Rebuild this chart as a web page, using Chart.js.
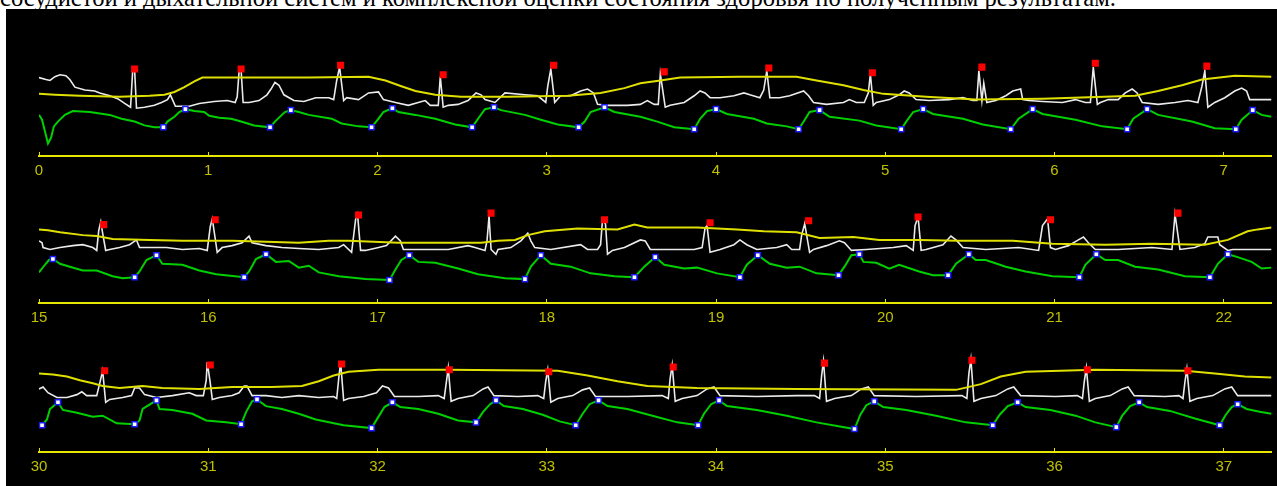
<!DOCTYPE html>
<html>
<head>
<meta charset="utf-8">
<script src="https://cdn.jsdelivr.net/npm/chart.js@4/dist/chart.umd.min.js"></script>
<style>
  html, body { margin: 0; padding: 0; background: #ffffff; width: 1277px; height: 486px; overflow: hidden; }
  #cap { position: absolute; left: 0px; top: -14px; font-family: 'Liberation Serif', 'Times New Roman', serif; font-size: 24.6px; line-height: 24.6px; white-space: nowrap; color: #000; }
  #panel { position: absolute; left: 6px; top: 9px; width: 1271px; height: 477px; background: #000; }
  canvas.strip { position: absolute; left: 6px; width: 1271px; height: 150px; }
</style>
</head>
<body>
<div id="cap">сосудистой и дыхательной систем и комплексной оценки состояния здоровья по полученным результатам.</div>
<div id="panel"></div>
<canvas class="strip" id="s1" width="1271" height="150" style="top:31px"></canvas>
<canvas class="strip" id="s2" width="1271" height="150" style="top:178px"></canvas>
<canvas class="strip" id="s3" width="1271" height="150" style="top:327px"></canvas>
<script>
// ---- strip time windows (seconds) ----
const stripStarts = [0, 15, 30];
const stripSpan = 7.282;

// ---- strip 1 (0 - 7.3 s) ----  [time s, amplitude units]
const ecg1 = [[0,82],[.041,80],[.065,79],[.094,83],[.124,85],[.159,84],[.182,80],[.212,72],[.271,69],[.329,68],[.359,66],[.418,63],[.465,60],[.506,55],[.541,51],[.553,88],[.565,90],[.576,50],[.624,51],[.682,53],[.724,56],[.759,59],[.776,64],[.806,52],[.888,52],[.947,55],[1.035,57],[1.112,58],[1.159,56],[1.171,62],[1.182,88],[1.194,90],[1.206,56],[1.241,56],[1.3,58],[1.347,64],[1.371,70],[1.394,77],[1.418,74],[1.447,64],[1.506,58],[1.565,57],[1.635,61],[1.712,61],[1.741,59],[1.759,79],[1.776,93],[1.8,58],[1.818,61],[1.888,59],[1.947,66],[2.006,67],[2.035,59],[2.106,56],[2.182,53],[2.241,56],[2.282,58],[2.312,53],[2.359,53],[2.371,83],[2.388,51],[2.418,53],[2.476,54],[2.535,58],[2.582,66],[2.612,64],[2.635,59],[2.694,56],[2.753,66],[2.871,64],[2.947,63],[2.994,56],[3.006,73],[3.024,91],[3.047,56],[3.082,63],[3.141,63],[3.2,68],[3.241,70],[3.276,66],[3.3,54],[3.359,53],[3.476,53],[3.553,54],[3.594,58],[3.635,54],[3.659,54],[3.671,86],[3.7,51],[3.729,53],[3.812,56],[3.871,63],[3.906,68],[3.935,66],[3.965,61],[4.024,61],[4.106,63],[4.165,66],[4.2,64],[4.259,61],[4.282,69],[4.3,89],[4.318,61],[4.376,61],[4.435,63],[4.518,68],[4.547,63],[4.576,56],[4.653,54],[4.753,56],[4.788,59],[4.829,56],[4.876,56],[4.9,66],[4.912,86],[4.929,53],[4.947,56],[5.024,59],[5.082,64],[5.112,68],[5.141,66],[5.182,59],[5.259,58],[5.376,59],[5.459,61],[5.518,58],[5.541,58],[5.553,89],[5.571,58],[5.582,76],[5.6,56],[5.653,58],[5.712,63],[5.753,68],[5.8,70],[5.812,59],[5.847,58],[5.929,57],[6.047,56],[6.124,59],[6.182,56],[6.212,56],[6.229,93],[6.253,54],[6.271,56],[6.318,59],[6.376,59],[6.418,66],[6.459,70],[6.488,66],[6.518,56],[6.612,54],[6.712,56],[6.788,58],[6.847,56],[6.871,73],[6.888,89],[6.906,51],[6.947,56],[7.006,61],[7.065,68],[7.106,71],[7.135,68],[7.153,59],[7.224,59],[7.282,59]];
const resp1 = [[0,65],[.094,64],[.241,63],[.476,62],[.653,63],[.741,64],[.8,67],[.859,72],[.918,78],[.965,82],[1.594,82],[1.947,83],[2.047,79],[2.141,73],[2.224,68],[2.341,64],[2.494,62],[2.771,62],[3.124,63],[3.318,66],[3.459,71],[3.553,76],[3.671,79],[3.788,82],[4.141,83],[4.476,83],[4.594,79],[4.753,74],[4.871,69],[4.988,65],[5.241,62],[5.535,59],[5.929,60],[6.476,63],[6.612,68],[6.753,74],[6.871,80],[7.065,84],[7.282,83]];
const pulse1 = [[0,43],[.018,38],[.035,26],[.053,13],[.071,19],[.088,31],[.112,36],[.153,43],[.2,47],[.3,46],[.418,43],[.488,39],[.565,36],[.624,32],[.682,30],[.735,30],[.759,36],[.8,41],[.829,46],[.865,49],[.918,47],[.976,46],[1.006,42],[1.065,40],[1.135,39],[1.194,36],[1.271,32],[1.365,30],[1.394,36],[1.429,42],[1.453,46],[1.488,48],[1.535,46],[1.594,43],[1.729,39],[1.788,34],[1.888,31],[1.965,30],[2.006,39],[2.035,46],[2.088,50],[2.124,46],[2.224,43],[2.341,39],[2.459,33],[2.559,30],[2.594,39],[2.635,49],[2.688,51],[2.729,48],[2.871,43],[2.965,38],[3.065,33],[3.188,30],[3.224,36],[3.259,46],[3.341,51],[3.4,46],[3.553,41],[3.653,36],[3.753,30],[3.871,28],[3.906,39],[3.947,47],[4.0,49],[4.065,44],[4.224,39],[4.3,34],[4.418,31],[4.488,28],[4.518,36],[4.553,46],[4.612,48],[4.671,41],[4.847,37],[4.947,32],[5.094,28],[5.124,36],[5.165,46],[5.224,49],[5.282,44],[5.459,39],[5.576,33],[5.741,28],[5.788,39],[5.871,49],[5.929,44],[6.124,38],[6.282,31],[6.429,28],[6.465,39],[6.547,49],[6.612,43],[6.812,36],[6.947,29],[7.071,28],[7.106,38],[7.171,48],[7.224,43],[7.282,41]];
const pulseMarks1 = [[.735,30],[.865,49],[1.365,30],[1.488,48],[1.965,30],[2.088,50],[2.559,30],[2.688,51],[3.188,30],[3.341,51],[3.871,28],[4.0,49],[4.488,28],[4.612,48],[5.094,28],[5.224,49],[5.741,28],[5.871,49],[6.429,28],[6.547,49],[7.071,28],[7.171,48]];
const rPeaks1 = [[.565,91],[1.194,91],[1.782,95],[2.388,85],[3.041,95],[3.694,88],[4.312,92],[4.924,87],[5.571,93],[6.241,97],[6.9,94]];

// ---- strip 2 (15 - 22.3 s) ----
const ecg2 = [[15,65],[15.018,63],[15.024,58],[15.065,56],[15.124,58],[15.2,60],[15.259,61],[15.318,58],[15.341,55],[15.353,76],[15.365,85],[15.376,73],[15.394,55],[15.418,56],[15.476,58],[15.535,61],[15.576,66],[15.594,58],[15.753,58],[15.847,56],[15.947,57],[15.994,55],[16.012,80],[16.024,88],[16.053,53],[16.082,58],[16.141,60],[16.2,63],[16.241,70],[16.259,63],[16.341,60],[16.435,58],[16.535,57],[16.653,56],[16.771,58],[16.8,61],[16.847,53],[16.871,88],[16.882,93],[16.9,55],[16.929,55],[17.006,58],[17.053,60],[17.106,70],[17.135,65],[17.153,56],[17.282,56],[17.418,56],[17.535,60],[17.576,58],[17.635,55],[17.647,65],[17.659,91],[17.671,56],[17.7,51],[17.712,56],[17.788,58],[17.847,65],[17.888,73],[17.906,65],[17.929,58],[18.024,56],[18.2,61],[18.241,56],[18.3,56],[18.318,61],[18.329,86],[18.347,83],[18.359,51],[18.388,55],[18.459,58],[18.553,66],[18.582,65],[18.612,56],[18.871,56],[18.918,58],[18.935,78],[18.947,81],[18.965,53],[19.024,56],[19.106,61],[19.141,66],[19.182,61],[19.241,56],[19.359,58],[19.418,61],[19.447,56],[19.494,56],[19.506,71],[19.524,83],[19.553,53],[19.576,56],[19.653,60],[19.729,65],[19.759,63],[19.8,55],[19.888,56],[20.047,58],[20.124,60],[20.165,55],[20.176,81],[20.194,90],[20.212,55],[20.241,56],[20.341,61],[20.388,70],[20.418,66],[20.459,58],[20.594,56],[20.788,58],[20.906,55],[20.929,81],[20.959,88],[20.976,58],[21.006,56],[21.082,60],[21.141,66],[21.171,69],[21.2,63],[21.241,56],[21.376,56],[21.576,58],[21.694,56],[21.712,93],[21.741,56],[21.829,58],[21.888,62],[21.906,69],[21.965,69],[21.976,61],[22.024,55],[22.053,56],[22.282,56]];
const resp2 = [[15,77],[15.053,76],[15.124,74],[15.259,71],[15.341,70],[15.435,67],[15.653,66],[15.847,65],[16.141,65],[16.341,64],[16.535,63],[16.712,65],[16.829,65],[17.124,63],[17.612,63],[17.712,65],[17.812,66],[17.888,71],[17.988,75],[18.182,78],[18.418,77],[18.518,82],[18.594,79],[18.888,79],[19.124,77],[19.282,75],[19.476,74],[19.612,68],[19.812,69],[19.965,66],[20.2,66],[20.435,65],[20.753,65],[20.988,62],[21.3,61],[21.576,62],[21.888,61],[22.024,66],[22.141,75],[22.2,77],[22.282,79]];
const pulse2 = [[15,32],[15.035,40],[15.059,45],[15.082,46],[15.124,41],[15.182,38],[15.259,34],[15.341,34],[15.435,28],[15.494,26],[15.565,27],[15.594,33],[15.635,45],[15.694,50],[15.729,41],[15.847,40],[15.947,34],[16.047,30],[16.212,27],[16.241,33],[16.282,46],[16.341,51],[16.4,43],[16.476,44],[16.535,37],[16.594,39],[16.653,32],[16.771,28],[16.929,25],[17.071,24],[17.106,35],[17.141,45],[17.188,50],[17.241,43],[17.341,42],[17.476,36],[17.594,30],[17.753,26],[17.871,25],[17.906,38],[17.965,50],[18.024,41],[18.141,38],[18.259,31],[18.4,28],[18.518,27],[18.576,38],[18.641,48],[18.694,40],[18.812,36],[18.888,37],[19.006,31],[19.141,27],[19.182,40],[19.247,50],[19.318,41],[19.418,37],[19.494,38],[19.594,31],[19.724,29],[19.759,38],[19.8,50],[19.847,51],[19.871,43],[19.947,42],[20.024,36],[20.082,40],[20.2,33],[20.282,29],[20.371,29],[20.418,41],[20.494,51],[20.535,45],[20.594,45],[20.712,38],[20.829,33],[20.988,28],[21.147,27],[21.182,40],[21.247,51],[21.3,45],[21.376,45],[21.476,38],[21.612,35],[21.771,28],[21.918,27],[21.965,41],[22.024,51],[22.082,48],[22.165,43],[22.224,36],[22.282,37]];
const pulseMarks2 = [[15.082,46],[15.565,27],[15.694,50],[16.212,27],[16.341,51],[17.071,24],[17.188,50],[17.871,25],[17.965,50],[18.518,27],[18.641,48],[19.141,27],[19.247,50],[19.724,29],[19.847,51],[20.371,29],[20.494,51],[21.147,27],[21.247,51],[21.918,27],[22.024,51]];
const rPeaks2 = [[15.382,82],[16.041,87],[16.888,92],[17.671,94],[18.341,87],[18.965,84],[19.547,86],[20.194,90],[20.976,87],[21.729,94]];

// ---- strip 3 (30 - 37.3 s) ----
const ecg3 = [[30,66],[30.024,68],[30.053,62],[30.106,57],[30.165,57],[30.224,60],[30.253,63],[30.282,59],[30.341,59],[30.359,72],[30.376,85],[30.394,52],[30.418,55],[30.494,57],[30.547,59],[30.565,67],[30.594,67],[30.624,60],[30.694,57],[30.788,59],[30.888,62],[30.929,59],[30.971,59],[30.988,75],[30.994,94],[31.012,72],[31.024,55],[31.065,57],[31.141,59],[31.182,62],[31.212,69],[31.229,69],[31.259,59],[31.341,59],[31.435,57],[31.535,59],[31.653,57],[31.741,58],[31.759,56],[31.771,77],[31.782,94],[31.8,54],[31.829,56],[31.918,58],[31.994,62],[32.029,69],[32.065,67],[32.1,58],[32.241,58],[32.359,59],[32.394,56],[32.406,72],[32.418,88],[32.435,53],[32.476,56],[32.565,59],[32.624,66],[32.653,68],[32.688,59],[32.829,58],[32.947,59],[32.982,56],[32.994,74],[33.006,86],[33.024,52],[33.065,56],[33.153,59],[33.212,65],[33.253,67],[33.288,58],[33.476,58],[33.682,59],[33.718,56],[33.729,77],[33.741,91],[33.759,53],[33.8,56],[33.888,59],[33.947,66],[33.988,68],[34.024,59],[34.241,58],[34.476,59],[34.582,59],[34.612,56],[34.624,80],[34.635,95],[34.653,53],[34.7,56],[34.8,59],[34.859,66],[34.9,68],[34.935,59],[35.182,58],[35.453,59],[35.482,56],[35.494,82],[35.506,97],[35.524,53],[35.565,56],[35.653,59],[35.724,66],[35.759,68],[35.8,59],[36.006,58],[36.135,59],[36.165,56],[36.176,74],[36.188,88],[36.206,53],[36.241,56],[36.329,59],[36.4,66],[36.435,68],[36.471,59],[36.653,58],[36.735,59],[36.759,56],[36.771,74],[36.782,87],[36.8,53],[36.841,56],[36.935,59],[37.006,66],[37.047,68],[37.082,59],[37.282,59]];
const resp3 = [[30,82],[30.082,81],[30.165,79],[30.241,75],[30.318,72],[30.376,69],[30.476,67],[30.612,69],[30.729,67],[30.947,66],[31.141,68],[31.376,68],[31.553,69],[31.653,74],[31.741,80],[31.829,84],[32.006,86],[32.418,86],[33.065,85],[33.241,80],[33.418,74],[33.594,69],[33.888,67],[34.476,66],[35.418,65],[35.565,71],[35.682,79],[35.829,84],[36.241,86],[36.771,85],[36.947,82],[37.124,79],[37.282,78]];
const pulse3 = [[30.018,28],[30.047,34],[30.065,45],[30.112,52],[30.141,44],[30.224,41],[30.318,37],[30.376,38],[30.459,30],[30.565,29],[30.594,33],[30.612,45],[30.694,54],[30.712,45],[30.788,44],[30.906,40],[30.988,33],[31.106,31],[31.194,29],[31.224,42],[31.259,53],[31.288,55],[31.341,48],[31.435,45],[31.535,40],[31.635,34],[31.8,28],[31.965,25],[32.006,37],[32.041,47],[32.088,52],[32.135,47],[32.241,45],[32.359,40],[32.476,33],[32.582,31],[32.624,42],[32.665,50],[32.7,54],[32.747,48],[32.859,45],[32.976,39],[33.076,32],[33.171,28],[33.212,40],[33.253,50],[33.306,54],[33.359,48],[33.476,45],[33.624,38],[33.771,31],[33.894,28],[33.929,40],[33.971,50],[34.018,54],[34.065,48],[34.241,44],[34.418,38],[34.594,31],[34.818,24],[34.853,39],[34.888,49],[34.935,53],[34.988,47],[35.124,44],[35.3,38],[35.476,31],[35.635,28],[35.676,39],[35.724,48],[35.782,52],[35.829,47],[35.976,44],[36.124,38],[36.241,31],[36.365,26],[36.4,38],[36.447,48],[36.5,52],[36.547,47],[36.682,43],[36.829,35],[36.976,28],[37.012,39],[37.047,47],[37.082,50],[37.135,45],[37.212,42],[37.282,40]];
const pulseMarks3 = [[30.018,28],[30.112,52],[30.565,29],[30.694,54],[31.194,29],[31.288,55],[31.965,25],[32.088,52],[32.582,31],[32.7,54],[33.171,28],[33.306,54],[33.894,28],[34.018,54],[34.818,24],[34.935,53],[35.635,28],[35.782,52],[36.365,26],[36.5,52],[36.976,28],[37.082,50]];
const rPeaks3 = [[30.388,85],[31.012,91],[31.788,92],[32.424,86],[33.012,84],[33.747,89],[34.641,93],[35.512,96],[36.194,86],[36.788,85]];

const strips = [
  { id: 's1', ecg: ecg1, resp: resp1, pulse: pulse1, marks: pulseMarks1, peaks: rPeaks1 },
  { id: 's2', ecg: ecg2, resp: resp2, pulse: pulse2, marks: pulseMarks2, peaks: rPeaks2 },
  { id: 's3', ecg: ecg3, resp: resp3, pulse: pulse3, marks: pulseMarks3, peaks: rPeaks3 }
];

const toXY = arr => arr.map(p => ({ x: p[0], y: p[1] }));
const AXIS = '#e6e600';

strips.forEach((s, i) => {
  const t0 = stripStarts[i];
  new Chart(document.getElementById(s.id), {
    type: 'line',
    data: {
      datasets: [
        { data: toXY(s.peaks), showLine: false, pointStyle: 'rect', pointRadius: 5, backgroundColor: '#ff0000', borderColor: '#ff0000', borderWidth: 0, order: 0 },
        { data: toXY(s.marks), showLine: false, pointStyle: 'rect', pointRadius: 3.6, backgroundColor: '#ffffff', borderColor: '#1a1aff', borderWidth: 1.5, order: 1 },
        { data: toXY(s.resp), borderColor: '#e0e000', borderWidth: 2, pointRadius: 0, tension: 0, order: 2 },
        { data: toXY(s.ecg), borderColor: '#ebebeb', borderWidth: 1.6, pointRadius: 0, tension: 0, order: 3 },
        { data: toXY(s.pulse), borderColor: '#00d000', borderWidth: 2, pointRadius: 0, tension: 0, order: 4 }
      ]
    },
    options: {
      responsive: false,
      animation: false,
      devicePixelRatio: 1,
      events: [],
      layout: { padding: { left: 33, right: 0, top: 0, bottom: 0 } },
      plugins: { legend: { display: false }, tooltip: { enabled: false }, title: { display: false } },
      scales: {
        x: {
          type: 'linear',
          min: t0,
          max: t0 + stripSpan,
          afterFit: sc => { sc.height = 25; sc.paddingLeft = 0; sc.paddingRight = 0; },
          border: { display: true, color: AXIS, width: 2 },
          grid: { display: true, drawOnChartArea: false, drawTicks: true, tickLength: -4, color: AXIS, lineWidth: 1 },
          ticks: {
            stepSize: 1, includeBounds: false, autoSkip: false, maxRotation: 0, minRotation: 0,
            color: '#c0c000', padding: 10,
            font: { family: "'Liberation Sans', Arial, sans-serif", size: 15 },
            callback: v => String(v)
          }
        },
        y: { display: false, min: 0, max: 125 }
      }
    }
  });
});
</script>
</body>
</html>
